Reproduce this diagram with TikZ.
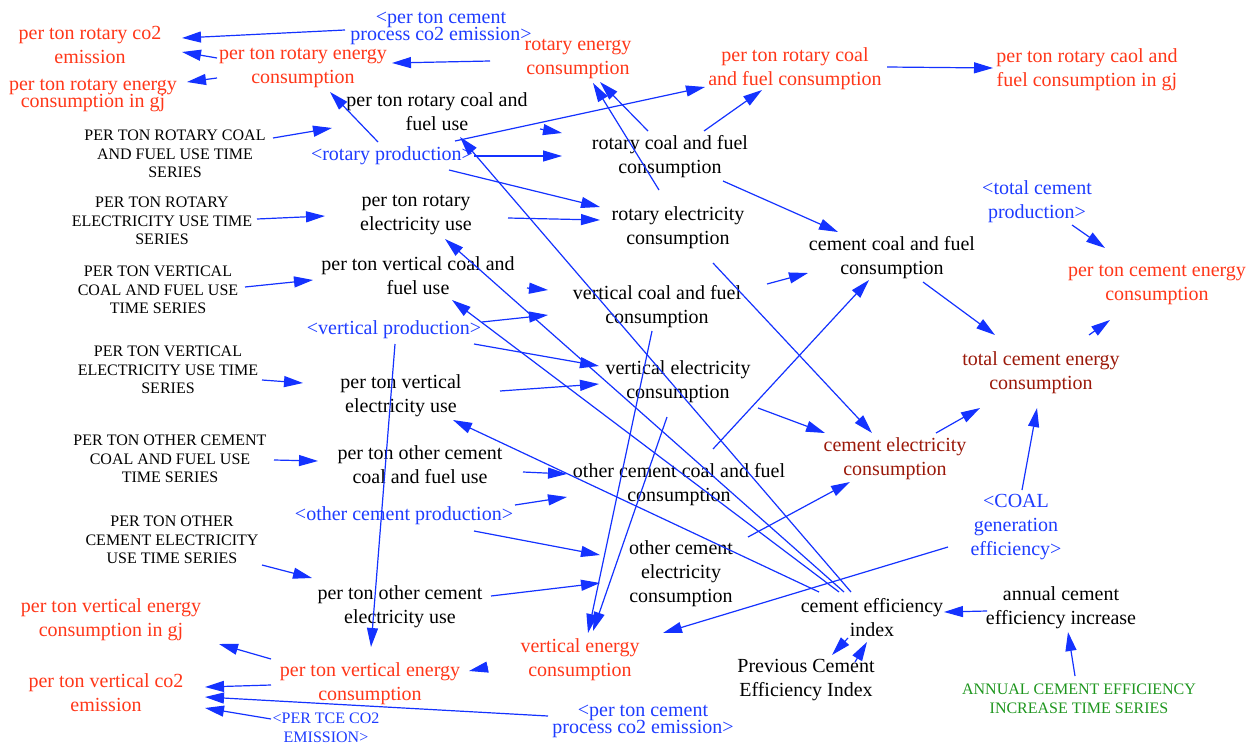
\documentclass[tikz,border=0pt]{standalone}
\usepackage{fontspec}
\setmainfont{Liberation Serif}
\usetikzlibrary{arrows.meta,calc}

\definecolor{varred}{RGB}{255,55,25}
\definecolor{vardark}{RGB}{155,25,10}
\definecolor{shadowblue}{RGB}{30,60,255}
\definecolor{linkblue}{RGB}{20,50,255}
\definecolor{tsgreen}{RGB}{30,150,30}

% tight two-line labels: allow lines to sit closer than the glyph extents
\newcommand{\tightlines}{\fontsize{20}{17}\selectfont\lineskiplimit -30pt\relax\lineskip 0pt\relax}

\begin{document}
\begin{tikzpicture}[x=1pt,y=-1pt,
  every node/.style={inner sep=0pt, align=center},
  var/.style={font=\fontsize{20}{24}\selectfont},
  tightvar/.style={font=\tightlines},
  ts/.style={font=\fontsize{16}{18.5}\selectfont},
  outvar/.style={var, text=varred},
  outtight/.style={tightvar, text=varred},
  totalvar/.style={var, text=vardark},
  shadowvar/.style={var, text=shadowblue},
  shadowtight/.style={tightvar, text=shadowblue},
  shadowts/.style={ts, text=shadowblue},
  greents/.style={ts, text=tsgreen},
  link/.style={draw=linkblue, line width=1.2pt, -{Triangle[length=19pt,width=11pt]}}
]
\fill[white] (0,0) rectangle (1255,747);
\useasboundingbox (0,0) rectangle (1255,747);

% ---- rotary kiln block ----
\node[outvar] (ptrco2) at (90,45) {per ton rotary co2\\emission};
\node[shadowtight] (pcpe1) at (441,28) {<per ton cement\\process co2 emission>};
\node[outvar] (ptrec) at (303,68) {per ton rotary energy\\consumption};
\node[outtight] (ptrecgj) at (93,96) {per ton rotary energy\\consumption in gj};
\node[outvar] (rec) at (578,59) {rotary energy\\consumption};
\node[outvar] (ptrcfc) at (795,69) {per ton rotary coal\\and fuel consumption};
\node[outvar] (ptrcgj) at (1087,70) {per ton rotary caol and\\fuel consumption in gj};
\node[var] (ptrcfu) at (437,112) {per ton rotary coal and\\fuel use};
\node[ts] (ts1) at (175,154) {PER TON ROTARY COAL\\AND FUEL USE TIME\\SERIES};
\node[shadowvar] (rprod) at (392,156) {<rotary production>};
\node[var] (rcfc) at (670,157) {rotary coal and fuel\\consumption};
\node[ts] (ts2) at (162,221) {PER TON ROTARY\\ELECTRICITY USE TIME\\SERIES};
\node[var] (ptreu) at (416,215) {per ton rotary\\electricity use};
\node[var] (rel) at (678,228) {rotary electricity\\consumption};

% ---- totals ----
\node[shadowvar] (tcp) at (1037,202) {<total cement\\production>};
\node[var] (ccfc) at (892,258) {cement coal and fuel\\consumption};
\node[outvar] (ptcec) at (1157,285) {per ton cement energy\\consumption};
\node[totalvar] (tcec) at (1041,373) {total cement energy\\consumption};
\node[totalvar] (cel) at (895,459) {cement electricity\\consumption};
\node[shadowvar] (coal) at (1016,527) {<COAL\\generation\\efficiency>};

% ---- vertical kiln block ----
\node[ts] (ts3) at (158,290) {PER TON VERTICAL\\COAL AND FUEL USE\\TIME SERIES};
\node[var] (ptvcfu) at (418,276) {per ton vertical coal and\\fuel use};
\node[var] (vcfc) at (657,307) {vertical coal and fuel\\consumption};
\node[shadowvar] (vprod) at (394,330) {<vertical production>};
\node[ts] (ts4) at (168,370) {PER TON VERTICAL\\ELECTRICITY USE TIME\\SERIES};
\node[var] (ptveu) at (401,396) {per ton vertical\\electricity use};
\node[var] (vel) at (678,382) {vertical electricity\\consumption};

% ---- other cement block ----
\node[ts] (ts5) at (170,459) {PER TON OTHER CEMENT\\COAL AND FUEL USE\\TIME SERIES};
\node[var] (ptocfu) at (420,465) {per ton other cement\\coal and fuel use};
\node[var] (occfc) at (679,485) {other cement coal and fuel\\consumption};
\node[shadowvar] (ocprod) at (404,516) {<other cement production>};
\node[ts] (ts6) at (172,540) {PER TON OTHER\\CEMENT ELECTRICITY\\USE TIME SERIES};
\node[var] (ocel) at (681,574) {other cement\\electricity\\consumption};
\node[var] (ptoceu) at (400,607) {per ton other cement\\electricity use};

% ---- efficiency index ----
\node[var] (ace) at (1061,608) {annual cement\\efficiency increase};
\node[var] (cei) at (872,618) {cement efficiency\\index};
\node[var] (prev) at (806,680) {Previous Cement\\Efficiency Index};
\node[greents] (tsa) at (1079,699) {ANNUAL CEMENT EFFICIENCY\\INCREASE TIME SERIES};

% ---- vertical energy outputs ----
\node[outvar] (ptvecgj) at (111,620) {per ton vertical energy\\consumption in gj};
\node[outvar] (ptvec) at (370,684) {per ton vertical energy\\consumption};
\node[outvar] (vec) at (580,660) {vertical energy\\consumption};
\node[outvar] (ptvco2) at (106,693) {per ton vertical co2\\emission};
\node[shadowts] (ptce) at (326,728) {<PER TCE CO2\\EMISSION>};
\node[shadowtight] (pcpe2) at (643,721) {<per ton cement\\process co2 emission>};

% ---- links ----
\draw[link] ($(pcpe1)+(-96,2)$) -- ($(ptrco2)+(92,-7)$);
\draw[link] ($(ptrec)+(-86,-10)$) -- ($(ptrco2)+(92,7)$);
\draw[link] ($(ptrec)+(-86,10)$) -- ($(ptrecgj)+(94,-14)$);
\draw[link] ($(rec)+(-88,2)$) -- ($(ptrec)+(89,-5)$);
\draw[link] ($(rprod)+(-14,-14)$) -- ($(ptrec)+(27,24)$);
\draw[link] ($(rprod)+(63,-15)$) -- ($(ptrcfc)+(-90,18)$);
\draw[link] ($(ts1)+(98,-16)$) -- ($(ptrcfu)+(-105,16)$);
\draw[link] ($(ptrcfu)+(103,17)$) -- ($(rcfc)+(-108,-24)$);
\draw[link] ($(rprod)+(82,0)$) -- ($(rcfc)+(-108,-1)$);
\draw[link] ($(rprod)+(57,14)$) -- ($(rel)+(-78,-21)$);
\draw[link] ($(ptreu)+(92,3)$) -- ($(rel)+(-78,-8)$);
\draw[link] ($(ts2)+(95,-2)$) -- ($(ptreu)+(-91,1)$);
\draw[link] ($(rcfc)+(-22,-26)$) -- ($(rec)+(22,23)$);
\draw[link] ($(rel)+(-19,-38)$) -- ($(rec)+(15,24)$);
\draw[link] ($(rcfc)+(34,-26)$) -- ($(ptrcfc)+(-33,21)$);
\draw[link] ($(ptrcfc)+(92,-2)$) -- ($(ptrcgj)+(-94,-2)$);
\draw[link] ($(rcfc)+(53,24)$) -- ($(ccfc)+(-54,-26)$);
\draw[link] ($(tcp)+(35,23)$) -- ($(ptcec)+(-52,-37)$);
\draw[link] ($(tcec)+(48,-38)$) -- ($(ptcec)+(-47,35)$);
\draw[link] ($(ccfc)+(31,24)$) -- ($(tcec)+(-46,-38)$);
\draw[link] ($(cel)+(41,-26)$) -- ($(tcec)+(-61,35)$);
\draw[link] ($(coal)+(6,-37)$) -- ($(tcec)+(-4,35)$);
\draw[link] ($(rel)+(35,35)$) -- ($(cel)+(-23,-26)$);
\draw[link] ($(vcfc)+(110,-23)$) -- ($(ccfc)+(-84,15)$);
\draw[link] ($(vel)+(80,26)$) -- ($(cel)+(-70,-26)$);
\draw[link] ($(occfc)+(34,-36)$) -- ($(ccfc)+(-23,22)$);
\draw[link] ($(ocel)+(67,-37)$) -- ($(cel)+(-45,23)$);
\draw[link] ($(ts3)+(87,-3)$) -- ($(ptvcfu)+(-105,4)$);
\draw[link] ($(ptvcfu)+(109,12)$) -- ($(vcfc)+(-109,-17)$);
\draw[link] ($(vprod)+(88,-8)$) -- ($(vcfc)+(-109,8)$);
\draw[link] ($(vprod)+(80,14)$) -- ($(vel)+(-79,-16)$);
\draw[link] ($(ptveu)+(99,-5)$) -- ($(vel)+(-79,2)$);
\draw[link] ($(ts4)+(94,10)$) -- ($(ptveu)+(-98,-13)$);
\draw[link] ($(ts5)+(104,1)$) -- ($(ptocfu)+(-102,-4)$);
\draw[link] ($(ptocfu)+(103,7)$) -- ($(occfc)+(-112,-11)$);
\draw[link] ($(ocprod)+(111,-11)$) -- ($(occfc)+(-112,12)$);
\draw[link] ($(ocprod)+(70,15)$) -- ($(ocel)+(-81,-19)$);
\draw[link] ($(ptoceu)+(91,-11)$) -- ($(ocel)+(-81,9)$);
\draw[link] ($(ts6)+(90,25)$) -- ($(ptoceu)+(-88,-29)$);
\draw[link] ($(vcfc)+(-5,24)$) -- ($(vec)+(8,-27)$);
\draw[link] ($(vel)+(-11,35)$) -- ($(vec)+(13,-29)$);
\draw[link] ($(coal)+(-68,20)$) -- ($(vec)+(83,-27)$);
\draw[link] ($(vprod)+(1,14)$) -- ($(ptvec)+(1,-37)$);
\draw[link] ($(vec)+(-92,7)$) -- ($(ptvec)+(99,-13)$);
\draw[link] ($(ptvec)+(-99,-25)$) -- ($(ptvecgj)+(108,24)$);
\draw[link] ($(ptvec)+(-99,1)$) -- ($(ptvco2)+(99,-6)$);
\draw[link] ($(pcpe2)+(-95,-5)$) -- ($(ptvco2)+(99,4)$);
\draw[link] ($(ptce)+(-55,-9)$) -- ($(ptvco2)+(99,15)$);
\draw[link] ($(ace)+(-74,3)$) -- ($(cei)+(72,-6)$);
\draw[link] ($(tsa)+(-4,-23)$) -- ($(ace)+(7,24)$);
\draw[link] ($(cei)+(-24,20)$) -- ($(prev)+(26,-25)$);
\draw[link] ($(prev)+(49,-18)$) -- ($(cei)+(-5,24)$);
% efficiency index feeds the per-ton use rates
\draw[link] ($(cei)+(-21,-26)$) -- ($(ptrcfu)+(23,25)$);
\draw[link] ($(cei)+(-28,-26)$) -- ($(ptreu)+(29,24)$);
\draw[link] ($(cei)+(-33,-26)$) -- ($(ptvcfu)+(34,24)$);
\draw[link] ($(cei)+(-53,-26)$) -- ($(ptveu)+(52,24)$);
\end{tikzpicture}
\end{document}
